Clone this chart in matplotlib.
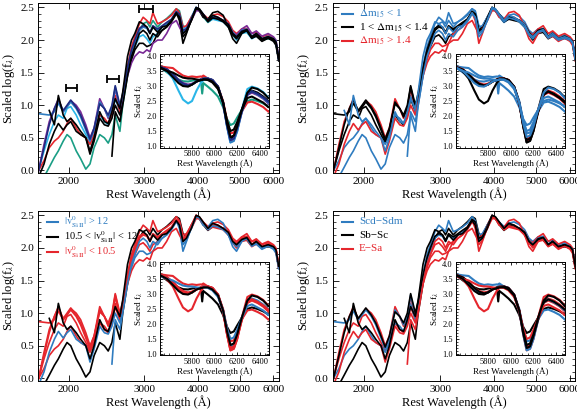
"""Four-panel UV/optical SN Ia spectra comparison with Si II 6355 insets."""

import matplotlib.pyplot as plt
import numpy as np
from matplotlib.ticker import FixedLocator, MultipleLocator, NullLocator, FormatStrFormatter

nan = np.nan

# ---- main-panel wavelength knots (Angstrom) ----
WAVE = [1700, 1750, 1800, 1850, 1890, 1940, 1980, 2020, 2080, 2130,
        2190, 2240, 2290, 2360, 2420, 2470, 2520, 2565, 2630, 2670,
        2740, 2800, 2850, 2920, 2980, 3040, 3090, 3140, 3220, 3300,
        3380, 3470, 3560, 3620, 3690, 3760, 3860, 3960, 4030, 4110,
        4220, 4330, 4450, 4580, 4710, 4820, 4920, 5060, 5200, 5340,
        5470, 5640, 5830, 6000, 6080, 6170]

S1 = [nan, -0.1, 0.05, 0.2, 0.3, 0.45, 0.55, 0.5, 0.3, 0.18,
      0.02, 0.1, 0.35, 0.55, 0.5, 0.42, 0.55, 0.85, 0.6, 1.0,
      1.45, 1.75, 1.95, 2.15, 2.25, 2.28, 2.2, 2.3, 2.2, 2.28,
      2.33, 2.4, 2.48, 2.45, 2.22, 2.18, 2.35, 2.48, 2.45, 2.36,
      2.27, 2.33, 2.33, 2.3, 2.2, 2.1, 2.05, 2.12, 2.12, 2.04,
      2.08, 2.0, 2.02, 2.0, 1.95, 1.72]
S2 = [0.0, 0.3, 0.55, 0.75, 0.85, 0.8, 0.95, 0.98, 0.85, 0.7,
      0.55, 0.42, 0.55, 0.85, 0.75, 0.7, 0.85, 1.1, 0.9, 1.1,
      1.5, 1.75, 1.9, 2.05, 2.08, 2.02, 1.95, 2.05, 2.1, 2.2,
      2.25, 2.32, 2.42, 2.35, 2.15, 2.2, 2.35, 2.5, 2.45, 2.38,
      2.28, 2.32, 2.3, 2.28, 2.2, 2.08, 2.0, 2.1, 2.12, 2.02,
      2.06, 2.0, 2.04, 2.0, 1.95, 1.7]
S3 = [0.0, 0.15, 0.35, 0.45, 0.5, 0.6, 0.72, 0.8, 0.65, 0.55,
      0.5, 0.4, 0.55, 0.85, 0.8, 0.72, 0.85, 1.15, 0.9, 1.15,
      1.6, 1.9, 2.05, 2.25, 2.35, 2.3, 2.25, 2.42, 2.25, 2.28,
      2.32, 2.38, 2.48, 2.42, 2.2, 2.22, 2.35, 2.47, 2.45, 2.4,
      2.33, 2.38, 2.4, 2.36, 2.28, 2.15, 2.1, 2.17, 2.18, 2.1,
      2.12, 2.05, 2.08, 2.03, 1.98, 1.74]
S4 = [-0.1, 0.1, 0.4, 0.6, 0.72, 0.62, 0.7, 0.75, 0.6, 0.55,
      0.5, 0.25, 0.45, 0.8, 0.7, 0.68, 0.8, 1.0, 0.85, 1.05,
      1.5, 1.7, 1.85, 1.95, 1.95, 1.9, 1.92, 1.95, 2.1, 2.15,
      2.2, 2.3, 2.42, 2.3, 1.95, 2.1, 2.32, 2.48, 2.45, 2.35,
      2.32, 2.42, 2.44, 2.38, 2.2, 2.02, 1.95, 2.1, 2.15, 2.03,
      2.06, 1.98, 2.03, 1.98, 1.92, 1.68]
S5 = [0.0, 0.4, 0.75, 0.95, 1.1, 0.9, 0.98, 1.07, 1.0, 0.9,
      0.7, 0.5, 0.65, 1.1, 0.95, 0.8, 0.95, 1.25, 0.95, 1.1,
      1.45, 1.65, 1.75, 1.82, 1.8, 1.85, 1.82, 1.95, 2.0, 2.0,
      2.1, 2.25, 2.3, 2.2, 2.1, 2.18, 2.3, 2.45, 2.45, 2.38,
      2.3, 2.36, 2.35, 2.3, 2.25, 2.12, 2.08, 2.17, 2.22, 2.1,
      2.14, 2.06, 2.1, 2.05, 2.0, 1.75]
S6 = [0.87, 0.86, 0.85, 0.9, 1.03, 0.9, 0.97, 1.05, 0.95, 0.82,
      0.62, 0.45, 0.62, 1.05, 0.95, 0.82, 0.95, 1.28, 0.97, 1.15,
      1.55, 1.8, 1.95, 2.15, 2.2, 2.18, 2.1, 2.2, 2.15, 2.2,
      2.25, 2.3, 2.43, 2.38, 2.12, 2.15, 2.32, 2.5, 2.47, 2.4,
      2.3, 2.36, 2.34, 2.3, 2.24, 2.12, 2.05, 2.15, 2.17, 2.06,
      2.1, 2.02, 2.06, 2.02, 1.98, 1.72]
S7 = [0.0, 0.35, 0.7, 0.95, 1.08, 0.92, 1.0, 1.08, 0.97, 0.85,
      0.65, 0.48, 0.65, 1.02, 0.95, 0.85, 1.0, 1.3, 1.0, 1.18,
      1.58, 1.85, 2.0, 2.18, 2.22, 2.2, 2.12, 2.22, 2.17, 2.22,
      2.27, 2.32, 2.44, 2.4, 2.15, 2.17, 2.33, 2.5, 2.47, 2.4,
      2.3, 2.35, 2.33, 2.3, 2.23, 2.1, 2.04, 2.14, 2.16, 2.05,
      2.1, 2.02, 2.05, 2.01, 1.97, 1.7]
S8 = [nan, nan, nan, nan, nan, nan, nan, nan, nan, nan,
      nan, nan, nan, nan, nan, nan, 0.22, 0.9, 0.75, 1.0,
      1.45, 1.75, 1.9, 2.1, 2.15, 2.1, 2.0, 2.1, 2.05, 2.15,
      2.2, 2.28, 2.4, 2.35, 2.05, 2.12, 2.3, 2.48, 2.46, 2.38,
      2.28, 2.34, 2.32, 2.28, 2.2, 2.08, 2.02, 2.12, 2.14, 2.03,
      2.07, 2.0, 2.03, 2.0, 1.95, 1.7]
S9 = [nan, nan, 0.92, 0.7, 1.15, 0.85, 0.75, 0.8, 0.7, 0.6,
      0.5, 0.3, 0.5, 0.9, 0.75, 0.72, 0.9, 1.1, 0.95, 1.2,
      1.75, 2.0, 2.1, 2.28, 2.25, 2.2, 2.1, 2.2, 2.12, 2.2,
      2.22, 2.3, 2.42, 2.35, 2.1, 2.15, 2.3, 2.5, 2.48, 2.4,
      2.3, 2.38, 2.35, 2.3, 2.24, 2.1, 2.05, 2.13, 2.16, 2.05,
      2.1, 2.02, 2.05, 2.02, 1.97, 1.72]

# ---- inset (Si II 6355 region) ----
IWAVE = [5530, 5580, 5630, 5680, 5720, 5765, 5800, 5840, 5880, 5890,
         5900, 5940, 5980, 6030, 6075, 6110, 6140, 6170, 6200, 6240,
         6290, 6330, 6380, 6430, 6475]
I1 = [3.6, 3.45, 3.32, 3.22, 3.16, 3.15, 3.18, 3.2, 3.15, 2.75,
      3.1, 2.98, 2.85, 2.65, 2.3, 1.9, 1.7, 1.75, 1.95, 2.2,
      2.5, 2.55, 2.5, 2.42, 2.32]
I2 = [3.6, 3.48, 3.25, 2.85, 2.55, 2.42, 2.5, 2.85, 3.12, 3.15,
      3.2, 3.25, 3.2, 2.98, 2.45, 1.65, 1.12, 1.18, 1.5, 2.2,
      2.9, 2.98, 2.92, 2.8, 2.62]
I3 = [3.65, 3.62, 3.6, 3.45, 3.35, 3.3, 3.32, 3.3, 3.32, 3.3,
      3.35, 3.25, 3.2, 2.98, 2.5, 1.85, 1.42, 1.45, 1.75, 2.15,
      2.45, 2.48, 2.4, 2.3, 2.15]
I4 = [3.62, 3.55, 3.38, 3.15, 3.05, 3.0, 3.05, 3.15, 3.22, 3.22,
      3.25, 3.25, 3.2, 2.98, 2.45, 1.72, 1.25, 1.3, 1.62, 2.18,
      2.75, 2.85, 2.78, 2.65, 2.5]
I5 = [3.62, 3.55, 3.4, 3.2, 3.1, 3.05, 3.08, 3.15, 3.22, 3.22,
      3.24, 3.25, 3.2, 2.96, 2.42, 1.68, 1.18, 1.22, 1.55, 2.12,
      2.7, 2.78, 2.7, 2.58, 2.42]
I6 = [3.6, 3.5, 3.35, 3.15, 3.05, 3.0, 3.05, 3.15, 3.22, 3.22,
      3.25, 3.25, 3.2, 2.97, 2.42, 1.65, 1.12, 1.17, 1.5, 2.12,
      2.72, 2.82, 2.72, 2.6, 2.45]
I7 = [3.62, 3.55, 3.4, 3.2, 3.08, 3.02, 3.05, 3.15, 3.22, 3.22,
      3.24, 3.25, 3.2, 2.98, 2.45, 1.7, 1.2, 1.25, 1.6, 2.15,
      2.72, 2.82, 2.74, 2.62, 2.48]
I8 = [3.58, 3.5, 3.45, 3.35, 3.28, 3.25, 3.25, 3.22, 3.2, 3.2,
      3.22, 3.2, 3.12, 2.9, 2.45, 1.85, 1.5, 1.55, 1.8, 2.2,
      2.6, 2.65, 2.55, 2.45, 2.3]
I9 = [3.6, 3.5, 3.3, 3.1, 3.0, 2.98, 3.05, 3.15, 3.2, 3.2,
      3.22, 3.22, 3.15, 2.95, 2.45, 1.75, 1.3, 1.35, 1.65, 2.2,
      2.78, 2.95, 2.9, 2.78, 2.6]

SPECTRA = [S1, S2, S3, S4, S5, S6, S7, S8, S9]
INSETS = [I1, I2, I3, I4, I5, I6, I7, I8, I9]

# wavelength-range markers in the first panel
ERR_LO = [1968, 2452, 2909]
ERR_HI = [2089, 2612, 3148]
ERR_Y = [1.26, 1.40, 2.47]

BLUE = "#2f7cc0"
RED = "#e5262d"
BLACK = "#000000"

# per-panel colour of each spectrum
P1_COLORS = ["#1a9e85", "#2ab6e8", RED, BLACK, "#7a2a96", BLUE, "#1e2a80", BLACK, BLACK]
P2_COLORS = [BLUE, BLACK, BLUE, RED, RED, BLACK, BLACK, BLUE, BLUE]
P3_COLORS = [BLACK, RED, RED, BLUE, RED, RED, RED, BLUE, BLACK]
P4_COLORS = [BLACK, RED, BLUE, RED, RED, BLUE, BLACK, RED, BLACK]

P2_LABELS = [r"$\Delta$m$_{15}$ < 1", r"1 < $\Delta$m$_{15}$ < 1.4", r"$\Delta$m$_{15}$ > 1.4"]
VSI = r"$|\mathrm{v}^0_{\mathrm{Si\,II}}|$"
P3_LABELS = [VSI + " > 12", "10.5 < " + VSI + " < 12", VSI + " < 10.5"]
P4_LABELS = ["Scd\u2212Sdm", "Sb\u2212Sc", "E\u2212Sa"]

plt.rcParams["font.family"] = ["Liberation Serif", "DejaVu Serif"]
plt.rcParams["mathtext.fontset"] = "stix"


def _style(ax, size=8.5):
    ax.tick_params(which="both", direction="in", top=True, right=True, labelsize=size)
    ax.tick_params(which="major", length=4, width=0.6, pad=3)
    ax.tick_params(which="minor", length=2, width=0.5)
    for s in ax.spines.values():
        s.set_linewidth(0.7)


def _legend(ax, labels, size=8, step=0.079):
    # hand-placed key: short coloured dash followed by coloured text
    for i, (lab, c) in enumerate(zip(labels, (BLUE, BLACK, RED))):
        y = 0.935 - step * i
        ax.plot([0.037, 0.083], [y, y], color=c, lw=1.5, transform=ax.transAxes)
        ax.text(0.108, y, lab, color=c, fontsize=size, va="center", ha="left",
                transform=ax.transAxes)


def draw_panel(ax, colors, labels=None, errbars=False, key_size=8, key_step=0.079):
    for flux, c in zip(SPECTRA, colors):
        ax.plot(WAVE, flux, color=c, lw=1.2)
    ax.set_xscale("log")
    ax.set_xlim(1695, 6170)
    ax.set_ylim(-0.04, 2.57)
    ax.xaxis.set_major_locator(FixedLocator([2000, 3000, 4000, 5000, 6000]))
    ax.xaxis.set_major_formatter(FormatStrFormatter("%d"))
    ax.xaxis.set_minor_locator(NullLocator())
    ax.yaxis.set_major_locator(MultipleLocator(0.5))
    ax.yaxis.set_minor_locator(MultipleLocator(0.1))
    ax.yaxis.set_major_formatter(FormatStrFormatter("%.1f"))
    ax.set_xlabel("Rest Wavelength (\u00c5)", fontsize=9, labelpad=1)
    ax.set_ylabel(r"Scaled log(f$_\lambda$)", fontsize=9, labelpad=2)
    _style(ax, size=8)

    if errbars:
        lo = np.array(ERR_LO, float)
        hi = np.array(ERR_HI, float)
        xc = np.sqrt(lo * hi)
        ax.errorbar(xc, ERR_Y, xerr=[xc - lo, hi - xc], fmt="none",
                    ecolor="black", elinewidth=1.3, capsize=3, capthick=1.3)

    if labels:
        _legend(ax, labels, size=key_size, step=key_step)

    ins = ax.inset_axes([0.506, 0.15, 0.453, 0.55])
    for flux, c in zip(INSETS, colors):
        ins.plot(IWAVE, flux, color=c, lw=1.5)
    ins.set_xlim(5515, 6480)
    ins.set_ylim(0.95, 4.07)
    ins.xaxis.set_major_locator(FixedLocator([5800, 6000, 6200, 6400]))
    ins.xaxis.set_minor_locator(MultipleLocator(50))
    ins.yaxis.set_major_locator(MultipleLocator(0.5))
    ins.yaxis.set_minor_locator(MultipleLocator(0.1))
    ins.yaxis.set_major_formatter(FormatStrFormatter("%.1f"))
    ins.set_xlabel("Rest Wavelength (\u00c5)", fontsize=6.5, labelpad=0.5)
    ins.set_ylabel(r"Scaled f$_\lambda$", fontsize=6.5, labelpad=1)
    _style(ins, size=6)
    ins.tick_params(which="major", length=2.5, pad=2)
    ins.tick_params(which="minor", length=1.3)
    return ax


def main():
    fig = plt.figure(figsize=(5.77, 4.15), dpi=100)
    ax1 = fig.add_axes([0.066, 0.583, 0.417, 0.410])
    ax2 = fig.add_axes([0.577, 0.583, 0.420, 0.410])
    ax3 = fig.add_axes([0.066, 0.082, 0.417, 0.410])
    ax4 = fig.add_axes([0.577, 0.082, 0.420, 0.410])

    draw_panel(ax1, P1_COLORS, errbars=True)
    draw_panel(ax2, P2_COLORS, labels=P2_LABELS)
    draw_panel(ax3, P3_COLORS, labels=P3_LABELS, key_size=7.5, key_step=0.088)
    draw_panel(ax4, P4_COLORS, labels=P4_LABELS)

    fig.savefig("out.png", dpi=100)


if __name__ == "__main__":
    main()
